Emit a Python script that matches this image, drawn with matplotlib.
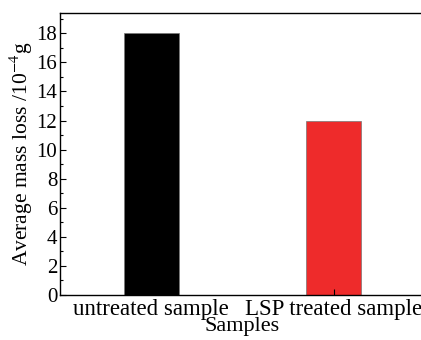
import matplotlib
matplotlib.use("Agg")
import matplotlib.pyplot as plt
from matplotlib.ticker import MultipleLocator

samples = ["untreated sample", "LSP treated sample"]
mass_loss = [18, 12]
colors = ["#000000", "#EE2B2B"]

plt.rcParams["font.family"] = ["Liberation Serif", "DejaVu Serif"]
plt.rcParams["mathtext.fontset"] = "stix"

fig = plt.figure(figsize=(4.21, 3.4), dpi=100)
ax = fig.add_axes([60 / 421, 45 / 340, 365 / 421, 282 / 340])

x = range(len(samples))
ax.bar(x, mass_loss, width=0.3, color=colors, edgecolor="#777777", linewidth=0.5)

ax.set_xlim(-0.5, 1.5)
ax.set_ylim(0, 19.4)
ax.set_xticks(list(x), samples)
ax.yaxis.set_major_locator(MultipleLocator(2))
ax.yaxis.set_minor_locator(MultipleLocator(1))
ax.tick_params(axis="both", direction="in", length=4, width=0.8)
ax.tick_params(axis="y", labelsize=15, pad=2)
ax.tick_params(axis="x", labelsize=16.5, pad=3)
ax.tick_params(axis="y", which="minor", direction="in", length=2.5, width=0.8)
ax.spines["right"].set_visible(False)
for s in ["left", "top", "bottom"]:
    ax.spines[s].set_linewidth(1.0)

ax.set_xlabel("Samples", fontsize=16, labelpad=-2)
ax.set_ylabel("Average mass loss /10$^{-4}$g", fontsize=15.5, labelpad=1)

fig.savefig("out.png", dpi=100)
